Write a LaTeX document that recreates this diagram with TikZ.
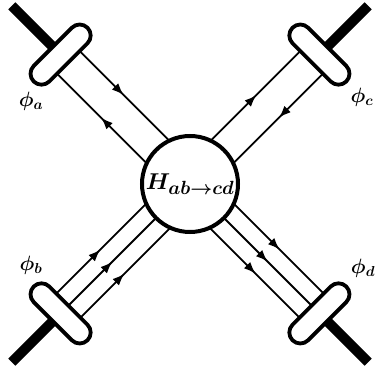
\documentclass[tikz,border=0pt]{standalone}
\usepackage{tikz}
\usetikzlibrary{calc,shapes.misc,arrows.meta,decorations.markings,backgrounds}

\tikzset{
  blob/.style={circle,draw,fill=white,line width=4pt,inner sep=0pt,minimum size=96pt},
  pill/.style={rounded rectangle,draw,fill=white,line width=3.8pt,inner sep=0pt,minimum width=76pt,minimum height=22pt},
  leg/.style={line width=10pt},
  quark/.style={line width=1.8pt,postaction={decorate},
    decoration={markings,mark=at position #1 with {\arrow{Latex[length=12pt,width=9pt]}}}},
  quark/.default=0.4,
  flav/.style={font=\huge\boldmath}
}

\begin{document}
\begin{tikzpicture}[x=1pt,y=1pt]
  \useasboundingbox (-190,-187) rectangle (187,184);
  % --- vertice central ---
  \node[blob,font=\Huge\boldmath] (H) at (0,0) {\scalebox{0.92}{$H_{ab\to cd}$}};
  % --- estados externos ---
  \node[pill,rotate=45]  (Pa) at (135:183) {};
  \node[pill,rotate=-45] (Pc) at (45:183) {};
  \node[pill,rotate=-45] (Pb) at (225:183) {};
  \node[pill,rotate=45]  (Pd) at (315:183) {};
  \node[flav] (la) at (-159,83)  {$\phi_a$};
  \node[flav] (lc) at (172,87)   {$\phi_c$};
  \node[flav] (lb) at (-159,-81) {$\phi_b$};
  \node[flav] (ld) at (173,-84)  {$\phi_d$};
  \coordinate (ea) at (135:252);
  \coordinate (ec) at (45:252);
  \coordinate (eb) at (225:252);
  \coordinate (ed) at (315:252);
  \begin{scope}[on background layer]
    % patas gruesas
    \draw[leg] (Pa.center) -- (ea);
    \draw[leg] (Pc.center) -- (ec);
    \draw[leg] (Pb.center) -- (eb);
    \draw[leg] (Pd.center) -- (ed);
    % a: par quark / antiquark
    \draw[quark]     ($(Pa)!16pt!90:(H)$) -- ($(H)!16pt!-90:(Pa)$);
    \draw[quark=0.6] ($(H)!16pt!90:(Pa)$) -- ($(Pa)!16pt!-90:(H)$);
    % c: par quark / antiquark
    \draw[quark]     ($(Pc)!16pt!90:(H)$) -- ($(H)!16pt!-90:(Pc)$);
    \draw[quark=0.6] ($(H)!16pt!90:(Pc)$) -- ($(Pc)!16pt!-90:(H)$);
    % b: tres lineas entrantes
    \draw[quark] ($(Pb)!17pt!90:(H)$) -- ($(H)!17pt!-90:(Pb)$);
    \draw[quark] (Pb.center) -- (H.center);
    \draw[quark] ($(Pb)!17pt!-90:(H)$) -- ($(H)!17pt!90:(Pb)$);
    % d: tres lineas salientes
    \draw[quark=0.6] ($(H)!17pt!90:(Pd)$) -- ($(Pd)!17pt!-90:(H)$);
    \draw[quark=0.6] (H.center) -- (Pd.center);
    \draw[quark=0.6] ($(H)!17pt!-90:(Pd)$) -- ($(Pd)!17pt!90:(H)$);
  \end{scope}
\end{tikzpicture}
\end{document}
